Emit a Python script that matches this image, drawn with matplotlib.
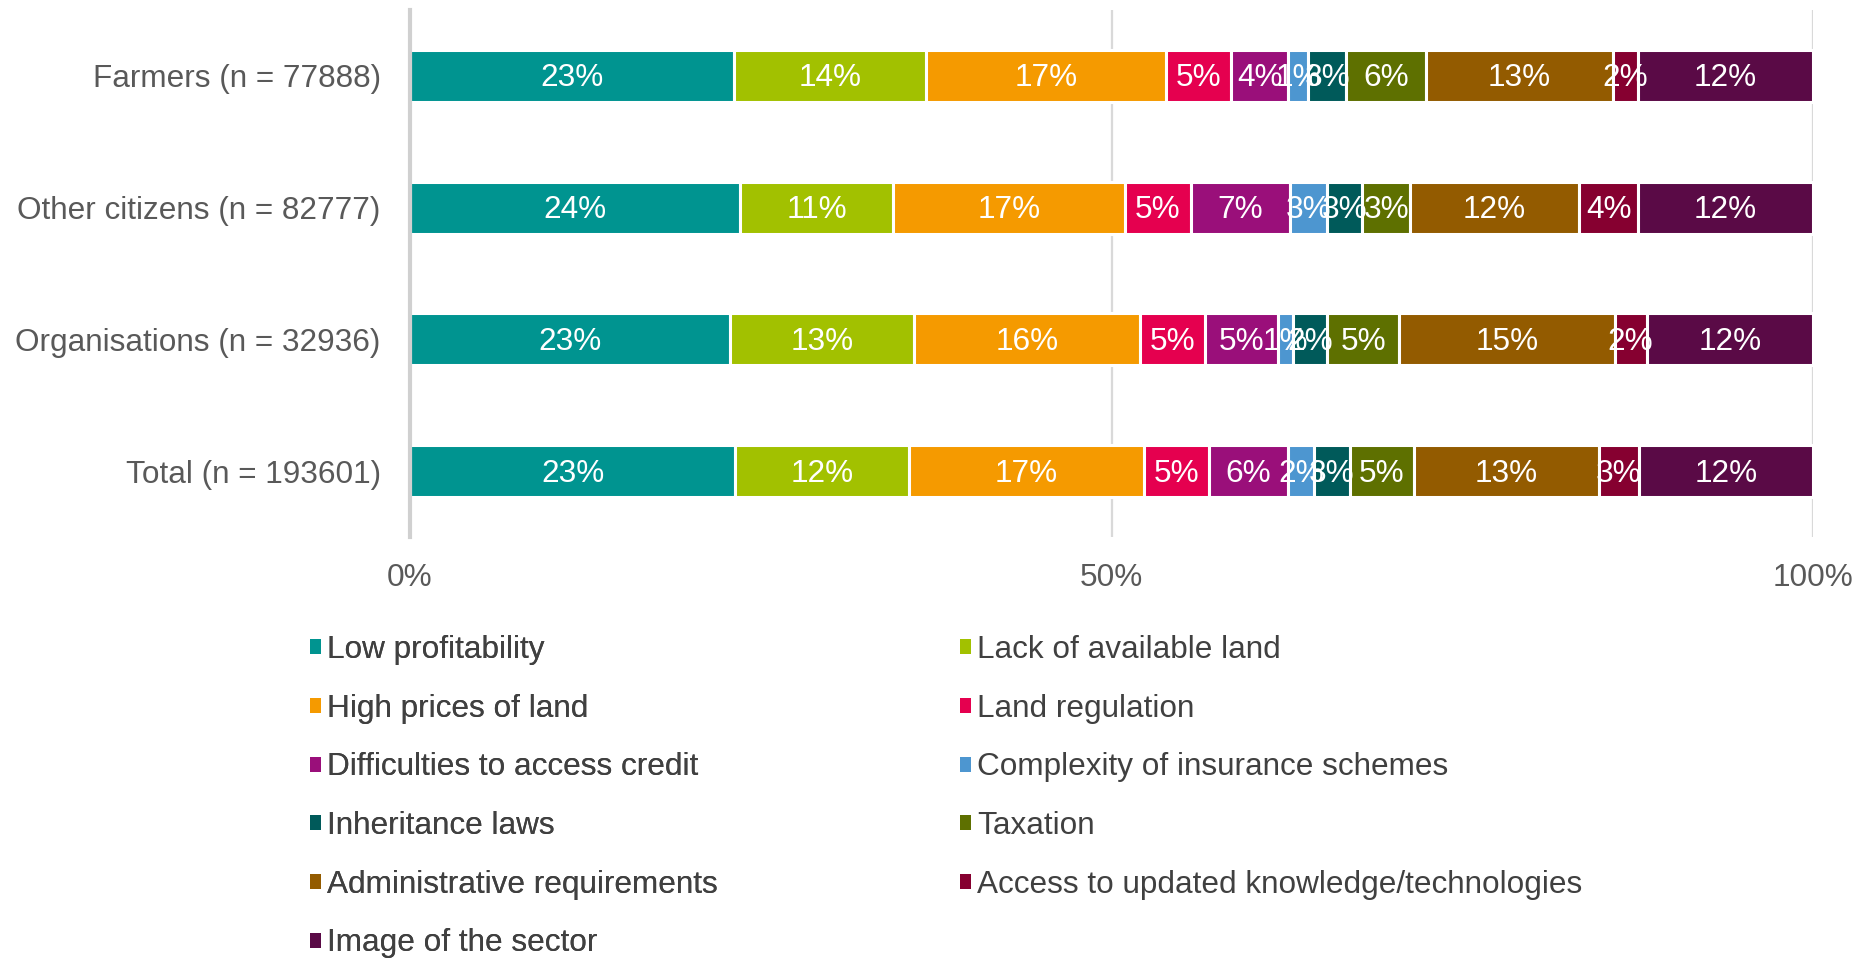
import matplotlib
matplotlib.use("Agg")
import matplotlib.pyplot as plt
from matplotlib.patches import Patch
import numpy as np

plt.rcParams['font.family'] = ['Liberation Sans', 'DejaVu Sans']

groups = ["Farmers (n = 77888)", "Other citizens (n = 82777)",
          "Organisations (n = 32936)", "Total (n = 193601)"]
reasons = ["Low profitability", "Lack of available land", "High prices of land",
           "Land regulation", "Difficulties to access credit",
           "Complexity of insurance schemes", "Inheritance laws", "Taxation",
           "Administrative requirements", "Access to updated knowledge/technologies",
           "Image of the sector"]
colors = ["#009490", "#A2C100", "#F59A00", "#E5004F", "#9A0F7A", "#4D96D0",
          "#005A5A", "#5E7000", "#935B00", "#860030", "#5A0A46"]

farmers = [23.06, 13.72, 17.07, 4.67, 4.06, 1.46, 2.67, 5.70, 13.33, 1.78, 12.47]
other_citizens = [23.55, 10.86, 16.55, 4.70, 7.09, 2.60, 2.53, 3.39, 12.08, 4.17, 12.47]
organisations = [22.83, 13.09, 16.10, 4.67, 5.20, 1.03, 2.45, 5.13, 15.36, 2.28, 11.86]
total = [23.20, 12.40, 16.70, 4.65, 5.63, 1.82, 2.60, 4.54, 13.19, 2.88, 12.37]

data = np.array([farmers, other_citizens, organisations, total])
xticks = [0, 50, 100]
xticklabels = ["0%", "50%", "100%"]

FS = 22.7
W, H = 1870, 959
fig = plt.figure(figsize=(W / 100, H / 100), dpi=100)
ax = fig.add_axes([410 / W, 1 - 537 / H, (1813 - 410) / W, (537 - 10) / H])

ypos = np.arange(len(groups))
left = np.zeros(len(groups))
containers = []
for j, name in enumerate(reasons):
    vals = data[:, j]
    c = ax.barh(ypos, vals, left=left, height=0.395, color=colors[j],
                edgecolor="white", linewidth=2.2, label=name, zorder=3)
    containers.append((c, vals))
    left = left + vals

for c, vals in containers:
    anns = ax.bar_label(c, labels=[f"{round(v)}%" for v in vals], label_type="center",
                        color="white", fontsize=FS, zorder=5)
    for a in anns:
        a.xyann = (0, -1.8)

ax.set_xlim(0, 100)
ax.set_ylim(len(groups) - 0.5, -0.5)
ax.set_yticks(ypos)
ax.set_yticklabels(groups, fontsize=FS, color="#595959")
ax.set_xticks(xticks)
ax.set_xticklabels(xticklabels, fontsize=FS, color="#595959")
ax.tick_params(axis="both", length=0)
ax.tick_params(axis="y", pad=21)
ax.tick_params(axis="x", pad=19)

for s in ["top", "right", "bottom"]:
    ax.spines[s].set_visible(False)
ax.spines["left"].set_color("#D0D0D0")
ax.spines["left"].set_linewidth(3)
ax.spines["left"].set_zorder(4)
for x in [50, 100]:
    ax.axvline(x, color="#D9D9D9", linewidth=1.6, zorder=1)

handles = [Patch(facecolor=colors[j], edgecolor="none", label=reasons[j])
           for j in range(len(reasons))]
col1 = [handles[j] for j in range(0, len(handles), 2)]
col2 = [handles[j] for j in range(1, len(handles), 2)]
common = dict(loc="upper left", frameon=False, fontsize=FS, borderpad=0,
              borderaxespad=0, handlelength=0.35, handleheight=0.35,
              handletextpad=0.2, labelspacing=0.91, labelcolor="#404040")
leg1 = fig.legend(handles=col1, bbox_to_anchor=(310 / W, 1 - 635 / H), **common)
fig.add_artist(leg1)
leg2 = fig.legend(handles=col2, bbox_to_anchor=(960 / W, 1 - 635 / H), **common)

fig.savefig("out.png", dpi=100)
